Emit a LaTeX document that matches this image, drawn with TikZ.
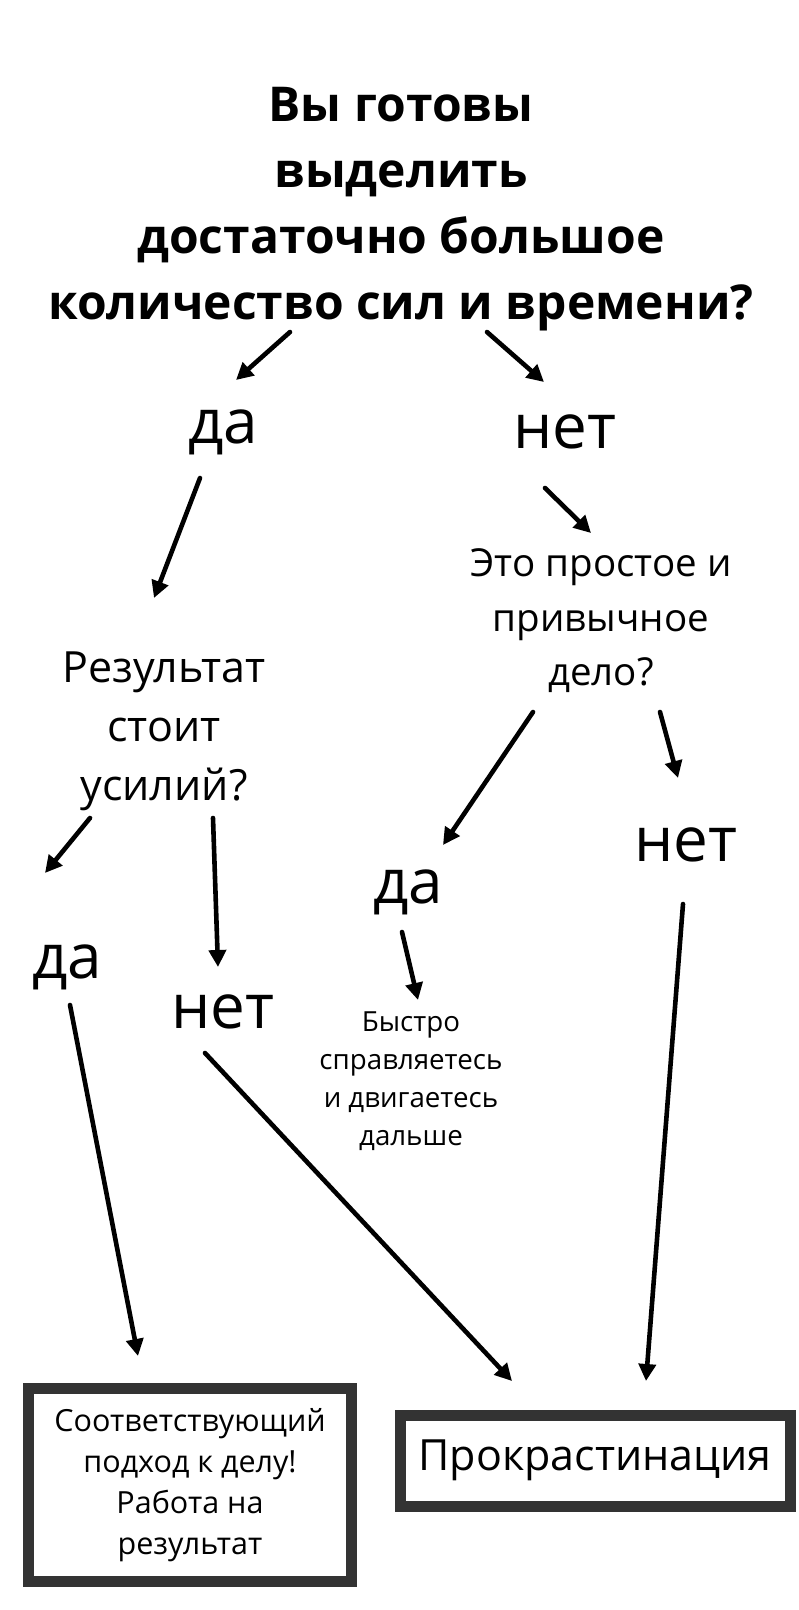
\documentclass[tikz,border=0pt]{standalone}
\usepackage{fontspec}
\setmainfont{Open Sans}
\usetikzlibrary{arrows.meta}

\definecolor{boxgray}{HTML}{333333}

\tikzset{
  arr/.style={-{Triangle[length=17pt,width=17pt]}, line width=4.6pt, line cap=round},
  answer/.style={font=\fontsize{62}{70}\selectfont, inner sep=0pt, anchor=base},
  ask/.style={font=\fontsize{38}{56}\selectfont, align=center, inner sep=0pt},
  endbox/.style={draw=boxgray, line width=11pt, inner sep=0pt, align=center},
}

\begin{document}
\begin{tikzpicture}[x=1pt,y=-1pt]

  \useasboundingbox (0,0) rectangle (799,1610);

  % nodes
  \node[font=\fontsize{48}{66}\selectfont\bfseries, align=center, inner sep=0pt] (ready) at (401,209)
    {Вы готовы\\выделить\\достаточно большое\\количество сил и времени?};
  \node[answer] (yes1) at (223,443) {да};
  \node[answer] (no1) at (565,448) {нет};
  \node[ask, font=\fontsize{43}{59}\selectfont] (worth) at (164,731) {Результат\\стоит\\усилий?};
  \node[ask, font=\fontsize{38.5}{54.5}\selectfont] (easy) at (601,621) {Это простое и\\привычное\\дело?};
  \node[answer] (yes2) at (67,978) {да};
  \node[answer] (no2) at (223,1028) {нет};
  \node[answer] (yes3) at (408,903) {да};
  \node[answer] (no3) at (686,861) {нет};
  \node[ask, font=\fontsize{27.7}{38}\selectfont] (quick) at (411,1081)
    {Быстро\\справляетесь\\и двигаетесь\\дальше};
  \node[endbox, font=\fontsize{30.5}{41}\selectfont, minimum width=323pt, minimum height=193pt] (proper) at (190,1485)
    {Соответствующий\\подход к делу!\\Работа на\\результат};
  \node[endbox, font=\fontsize{43}{50}\selectfont, minimum width=390pt, minimum height=91pt] (procr) at (595,1460.5)
    {Прокрастинация};

  % arrow ends
  \coordinate (ry) at (290,332);  \coordinate (yr) at (236,380);
  \coordinate (rn) at (487,332);  \coordinate (nr) at (544,382);
  \coordinate (yw) at (200,478);  \coordinate (wy) at (154,598);
  \coordinate (ne) at (545,488);  \coordinate (en) at (591,533);
  \coordinate (wy2) at (90,818);  \coordinate (y2w) at (45,873);
  \coordinate (wn2) at (213,818); \coordinate (n2w) at (218,967);
  \coordinate (ey3) at (533,712); \coordinate (y3e) at (443,845);
  \coordinate (en3) at (660,712); \coordinate (n3e) at (678,778);
  \coordinate (y3q) at (402,932); \coordinate (qy3) at (418,1000);
  \coordinate (y2p) at (70,1005); \coordinate (py2) at (138,1356);
  \coordinate (n2p) at (205,1053); \coordinate (pn2) at (512,1381);
  \coordinate (n3p) at (683,904); \coordinate (pn3) at (646,1381);

  % arrows
  \draw[arr] (ry) -- (yr);
  \draw[arr] (rn) -- (nr);
  \draw[arr] (yw) -- (wy);
  \draw[arr] (ne) -- (en);
  \draw[arr] (wy2) -- (y2w);
  \draw[arr] (wn2) -- (n2w);
  \draw[arr] (ey3) -- (y3e);
  \draw[arr] (en3) -- (n3e);
  \draw[arr] (y3q) -- (qy3);
  \draw[arr] (y2p) -- (py2);
  \draw[arr] (n2p) -- (pn2);
  \draw[arr] (n3p) -- (pn3);

\end{tikzpicture}
\end{document}
